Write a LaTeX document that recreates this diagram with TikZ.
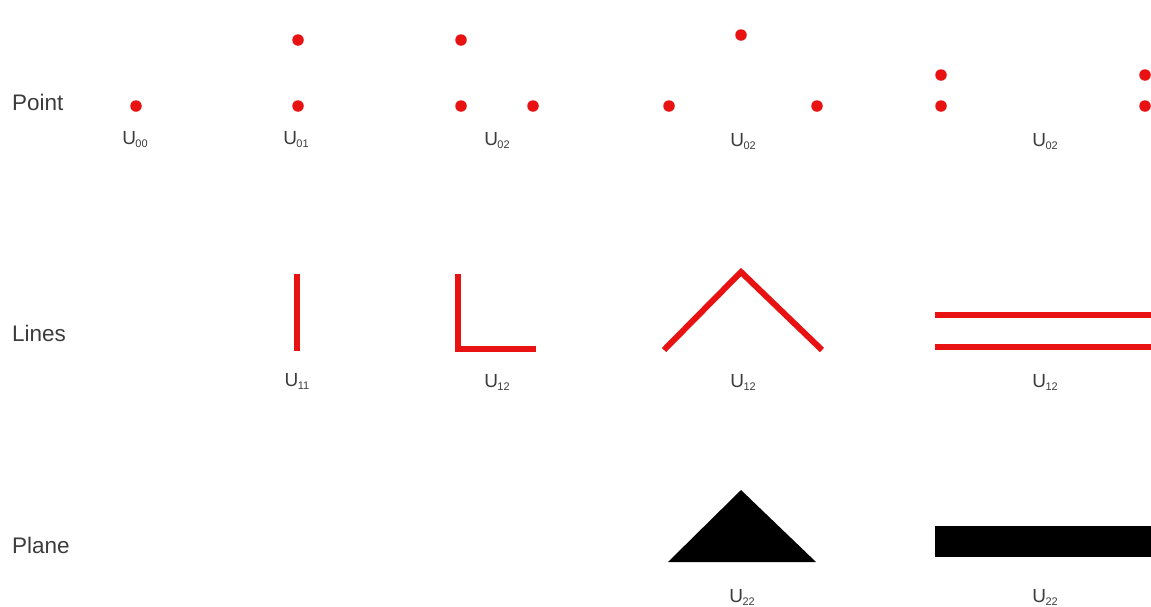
\documentclass[tikz,border=0pt]{standalone}
\usepackage{fontspec}
\setmainfont{Liberation Sans}
\definecolor{myred}{RGB}{232,18,18}
\definecolor{txt}{RGB}{60,60,60}
\newcommand{\usub}[1]{U\kern-0.5pt{\fontsize{11}{11}\selectfont\raisebox{-3pt}{#1}}}
\begin{document}
\begin{tikzpicture}[x=1pt,y=-1pt,
  dot/.style={circle,fill=myred,inner sep=0pt,minimum size=11.5pt},
  seg/.style={draw=myred,line width=6pt},
  rowlab/.style={anchor=west,text=txt,font=\fontsize{22.5}{26}\selectfont,inner sep=0pt},
  ulab/.style={text=txt,font=\fontsize{19}{20}\selectfont,inner sep=0pt}]
\useasboundingbox (0,0) rectangle (1151,606);
% row labels
\node[rowlab] (lp) at (12,102) {Point};
\node[rowlab] (ll) at (12,333) {Lines};
\node[rowlab] (lpl) at (12,545) {Plane};
% points
\node[dot] (a1) at (136,106) {};
\node[ulab] (u00) at (135,140) {\usub{00}};
\node[dot] (b1) at (298,40) {};
\node[dot] (b2) at (298,106) {};
\node[ulab] (u01) at (296,140) {\usub{01}};
\node[dot] (c1) at (461,40) {};
\node[dot] (c2) at (461,106) {};
\node[dot] (c3) at (533,106) {};
\node[ulab] (u02a) at (497,141) {\usub{02}};
\node[dot] (d1) at (741,35) {};
\node[dot] (d2) at (669,106) {};
\node[dot] (d3) at (817,106) {};
\node[ulab] (u02b) at (743,142) {\usub{02}};
\node[dot] (e1) at (941,75) {};
\node[dot] (e2) at (941,106) {};
\node[dot] (e3) at (1145,75) {};
\node[dot] (e4) at (1145,106) {};
\node[ulab] (u02c) at (1045,142) {\usub{02}};
% lines
\coordinate (f1) at (297,274);
\coordinate (f2) at (297,351);
\draw[seg] (f1) -- (f2);
\node[ulab] (u11) at (297,381) {\usub{11}};
\coordinate (g1) at (458,274);
\coordinate (g2) at (458,349);
\coordinate (g3) at (536,349);
\draw[seg,line join=miter] (g1) -- (g2) -- (g3);
\node[ulab] (u12a) at (497,382) {\usub{12}};
\coordinate (h1) at (664,350);
\coordinate (h2) at (741,272);
\coordinate (h3) at (822,350);
\draw[seg,line join=miter] (h1) -- (h2) -- (h3);
\node[ulab] (u12b) at (743,382) {\usub{12}};
\coordinate (i1) at (935,315);
\coordinate (i2) at (1151,315);
\coordinate (i3) at (935,347);
\coordinate (i4) at (1151,347);
\draw[seg] (i1) -- (i2);
\draw[seg] (i3) -- (i4);
\node[ulab] (u12c) at (1045,382) {\usub{12}};
% planes
\coordinate (j1) at (668,562);
\coordinate (j2) at (741,490);
\coordinate (j3) at (816,562);
\fill[black] (j1) -- (j2) -- (j3) -- cycle;
\node[ulab] (u22a) at (742,597) {\usub{22}};
\coordinate (k1) at (935,526);
\coordinate (k2) at (1151,557);
\fill[black] (k1) rectangle (k2);
\node[ulab] (u22b) at (1045,597) {\usub{22}};
\end{tikzpicture}
\end{document}
